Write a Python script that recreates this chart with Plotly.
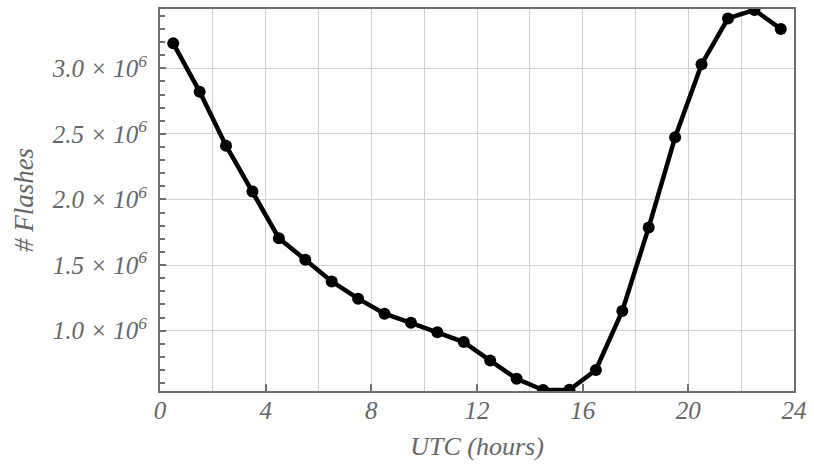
import plotly.graph_objects as go

# Hourly flash counts (UTC hour bin centres)
hours = [0.5, 1.5, 2.5, 3.5, 4.5, 5.5, 6.5, 7.5, 8.5, 9.5, 10.5, 11.5,
         12.5, 13.5, 14.5, 15.5, 16.5, 17.5, 18.5, 19.5, 20.5, 21.5, 22.5, 23.5]
flashes = [3.19e6, 2.822e6, 2.41e6, 2.06e6, 1.705e6, 1.541e6, 1.375e6, 1.244e6,
           1.129e6, 1.06e6, 0.988e6, 0.913e6, 0.772e6, 0.633e6, 0.548e6, 0.55e6,
           0.70e6, 1.15e6, 1.787e6, 2.475e6, 3.03e6, 3.38e6, 3.445e6, 3.30e6]

y_tickvals = [1.0e6, 1.5e6, 2.0e6, 2.5e6, 3.0e6]
y_ticktext = ["1.0", "1.5", "2.0", "2.5", "3.0"]
x_tickvals = [0, 4, 8, 12, 16, 20, 24]

FONT = "Liberation Serif, Times New Roman, serif"
GREY = "#666666"
AXIS = "#6e6e6e"
GRID = "#d0d0d0"

fig = go.Figure()
fig.add_trace(go.Scatter(
    x=hours, y=flashes, mode="lines+markers",
    line=dict(color="black", width=4.5),
    marker=dict(color="black", size=12),
    cliponaxis=True,
    showlegend=False,
))

fig.update_layout(
    width=814, height=466,
    margin=dict(l=160, r=14, t=7, b=75),
    paper_bgcolor="white", plot_bgcolor="white",
    font=dict(family=FONT, size=24, color=GREY),
)

fig.update_xaxes(
    range=[0, 24],
    tickvals=x_tickvals,
    ticktext=[f"<i>{v}</i>" for v in x_tickvals],
    ticks="inside", ticklen=7, tickwidth=2, tickcolor=AXIS,
    ticklabelstandoff=-4,
    showline=True, linecolor=AXIS, linewidth=2, mirror=True,
    showgrid=True, gridcolor=GRID, gridwidth=1,
    minor=dict(dtick=2, showgrid=True, gridcolor=GRID, gridwidth=1, ticks=""),
    zeroline=False,
    tickfont=dict(family=FONT, size=25, color=GREY),
    title=dict(text="<i>UTC (hours)</i>", font=dict(family=FONT, size=26, color=GREY),
               standoff=14),
)

fig.update_yaxes(
    range=[0.54e6, 3.452e6],
    tickvals=y_tickvals,
    ticktext=[f"<i>{t} × 10<sup>6</sup></i>" for t in y_ticktext],
    ticks="inside", ticklen=6, tickwidth=2, tickcolor=AXIS,
    ticklabelstandoff=6,
    showline=True, linecolor=AXIS, linewidth=2, mirror=True,
    showgrid=True, gridcolor=GRID, gridwidth=1,
    minor=dict(dtick=1e5, tick0=0, ticks="inside", ticklen=5, tickwidth=2,
               tickcolor=AXIS, showgrid=False),
    zeroline=False,
    tickfont=dict(family=FONT, size=25, color=GREY),
    title=dict(text="<i># Flashes</i>", font=dict(family=FONT, size=27, color=GREY),
               standoff=10),
)

fig.write_html("out.html")
